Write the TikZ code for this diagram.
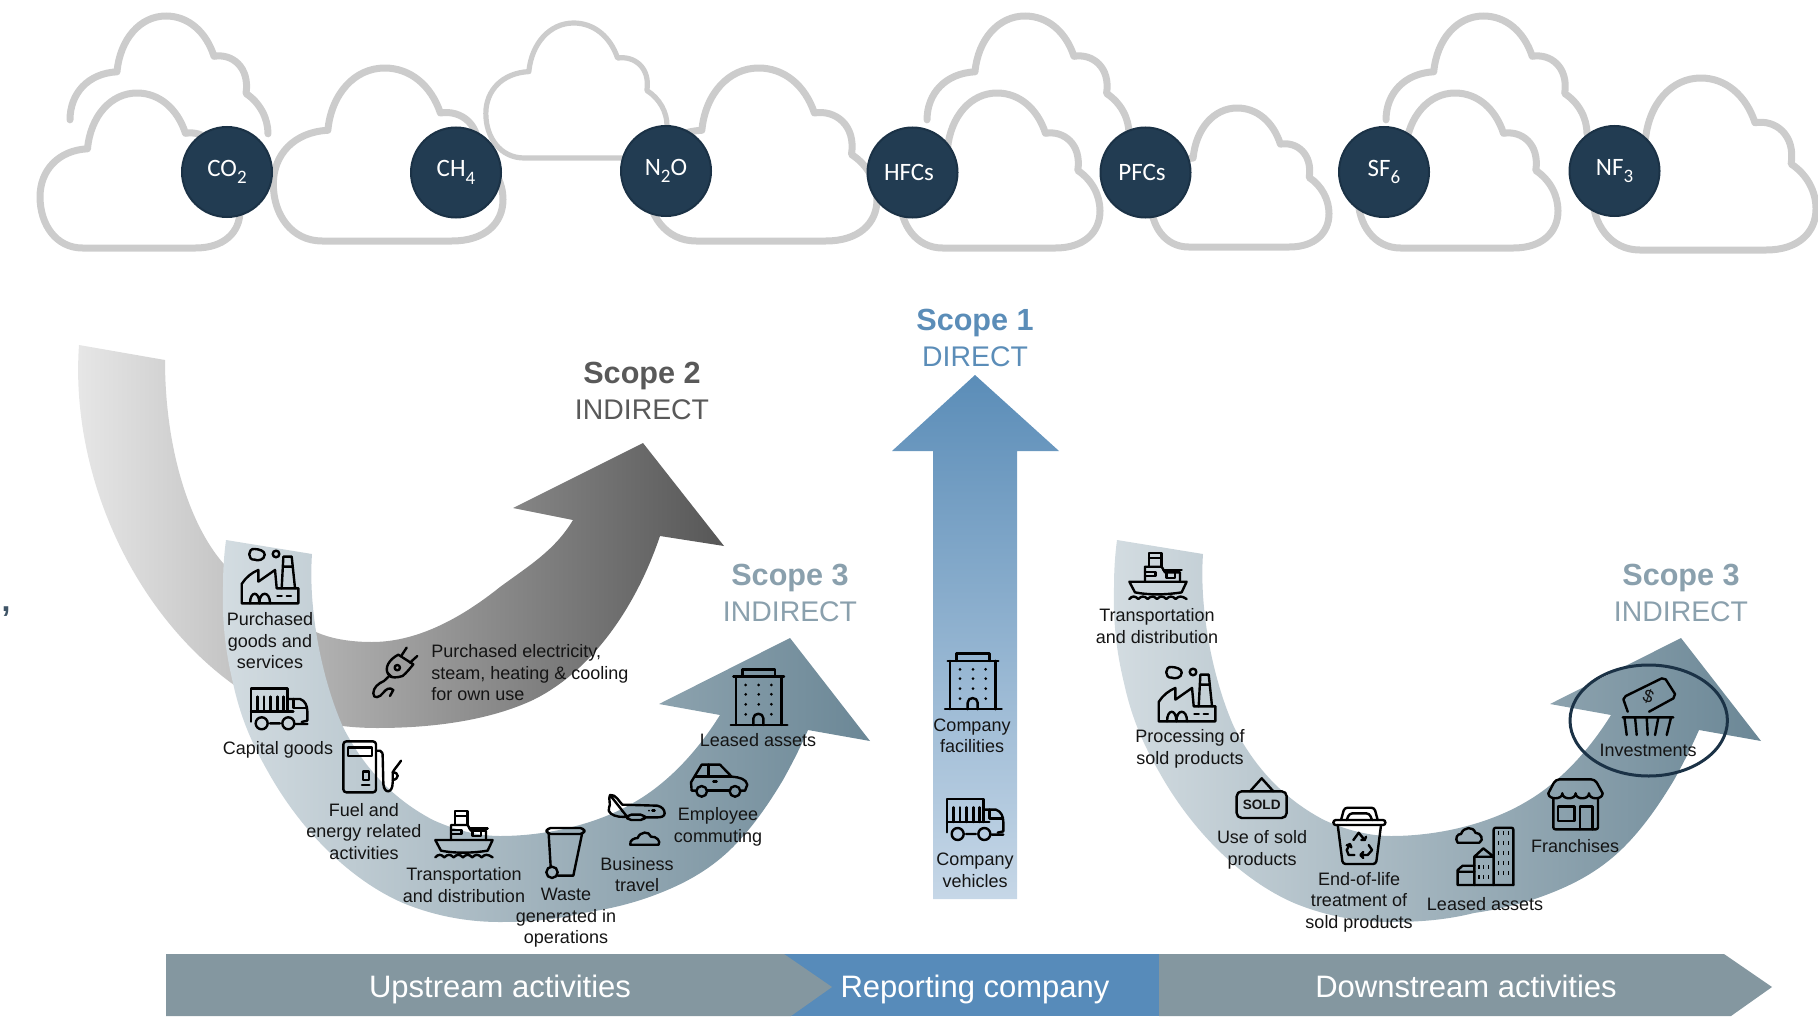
\documentclass[tikz,border=0pt]{standalone}
\usepackage{fontspec}
\setmainfont{Liberation Sans}
\newfontfamily\carlitofont{Carlito}
\definecolor{navy}{HTML}{223C52}
\definecolor{navyline}{HTML}{1B3246}
\definecolor{cloudgrey}{HTML}{CCCCCC}
\definecolor{barslate}{HTML}{8497A0}
\definecolor{barblue}{HTML}{578BBA}
\definecolor{headblue}{HTML}{5B8DB8}
\definecolor{headgrey}{HTML}{595959}
\definecolor{headslate}{HTML}{8AA0AD}
\definecolor{labelink}{HTML}{141414}
\definecolor{bandlight}{HTML}{D3DCE1}
\definecolor{bandmid}{HTML}{B4C2CB}
\definecolor{banddark}{HTML}{6B8796}
\definecolor{armlow}{HTML}{C6D7E7}
\definecolor{commaink}{HTML}{3F5567}
\newcommand\gsub[1]{\raisebox{-.3em}{\fontsize{9.5}{10}\selectfont #1}}
\tikzset{
  icon/.style={scale=0.3333,line width=1.2pt,line join=round,line cap=round},
  lab/.style={font=\fontsize{9}{10.75}\selectfont,align=center,inner sep=0pt,text=labelink},
  gas/.style={circle,minimum size=45pt,inner sep=0pt,fill=navy,draw=navyline,line width=1pt,text=white,font=\carlitofont\fontsize{12.5}{14}\selectfont},
  headb/.style={font=\fontsize{15.3}{17}\selectfont\bfseries,inner sep=0pt,text height=.72em,text depth=.2em},
  headn/.style={font=\fontsize{14.2}{16}\selectfont,inner sep=0pt,text height=.72em,text depth=.2em},
  barlab/.style={font=\fontsize{15.5}{17}\selectfont,text=white,inner sep=0pt,text height=.72em,text depth=.2em},
  cloudline/.style={draw=cloudgrey,line width=3.5pt,line cap=round,line join=round},
  bandfill/.style={left color=bandlight,middle color=bandmid,right color=banddark},
}
% clouds, in a unit box
\newcommand\cloudclosed[5][3.5pt]{\path[cloudline,line width=#1,fill=white,shift={(#2,#3)},xscale=#4,yscale=#5]
  (.22,1) .. controls (.09,1) and (.01,.85) .. (.01,.67) .. controls (.01,.5) and (.1,.37) .. (.245,.36)
  .. controls (.26,.15) and (.36,0) .. (.49,0) .. controls (.6,0) and (.69,.1) .. (.73,.26)
  .. controls (.82,.24) and (.91,.33) .. (.89,.5) .. controls (.96,.56) and (1,.66) .. (1,.76)
  .. controls (1,.9) and (.92,1) .. (.78,1) -- cycle;}
\newcommand\cloudopen[4]{\path[cloudline,shift={(#1,#2)},xscale=#3,yscale=#4]
  (.01,.67) .. controls (.01,.5) and (.1,.37) .. (.245,.36)
  .. controls (.26,.15) and (.36,0) .. (.49,0) .. controls (.6,0) and (.69,.1) .. (.73,.26)
  .. controls (.82,.24) and (.91,.33) .. (.89,.5) .. controls (.96,.56) and (1,.66) .. (1,.76);}
% the curved arrow shared by both Scope 3 bands
\newcommand\bandpath{(226,540) -- (312,554) .. controls (308,610) and (322,680) .. (343,727)
  .. controls (365,770) and (395,800) .. (433,820) .. controls (455,830) and (478,836) .. (500,836)
  .. controls (545,836) and (595,825) .. (633,803) .. controls (665,785) and (695,755) .. (720,715)
  -- (659,704) -- (790,638) -- (870,741) -- (808,730)
  .. controls (800,748) and (793,762) .. (783,780) .. controls (768,805) and (752,828) .. (733,847)
  .. controls (712,868) and (688,882) .. (660,893) .. controls (635,903) and (610,909) .. (583,913)
  .. controls (555,920) and (528,922) .. (500,922) .. controls (465,922) and (432,915) .. (403,903)
  .. controls (350,880) and (300,830) .. (267,770) .. controls (250,740) and (240,715) .. (233,683)
  .. controls (225,650) and (222,620) .. (223,587) .. controls (223,570) and (224,555) .. (226,540) -- cycle}
% icons
\newcommand\icFactory[2]{\begin{scope}[shift={(#1,#2)},icon]
  \draw (3,168) -- (3,110) .. controls (15,90) and (35,75) .. (53,68) -- (53,103) -- (103,68) -- (108,123) -- (173,123) -- (173,168) -- cycle;
  \draw (123,123) -- (128,28) -- (153,28) -- (163,123) (126,58) -- (156,58);
  \draw (28,168) .. controls (28,130) and (56,130) .. (56,168) .. controls (56,130) and (88,130) .. (88,168);
  \draw (110,146) -- (123,146) (138,146) -- (151,146);
  \draw (106,20) circle[radius=10];
  \draw (42,5) .. controls (20,2) and (20,40) .. (42,37) .. controls (50,42) and (72,38) .. (72,22) .. controls (72,10) and (55,6) .. (42,5) -- cycle;
\end{scope}}
\newcommand\icTruck[2]{\begin{scope}[shift={(#1,#2)},icon]
  \draw (3,103) -- (3,3) -- (112,3) -- (112,72) (3,72) -- (130,72);
  \foreach \sx in {22,42,62,82,100}{\draw (\sx,28) -- (\sx,72);}
  \draw (112,35) -- (150,35) .. controls (165,40) and (172,55) .. (172,72) -- (172,100) -- (155,104);
  \draw (130,35) -- (130,62) -- (170,62);
  \draw (35,108) circle[radius=18] (115,108) circle[radius=18] (60,108) -- (90,108) (138,110) -- (172,110);
\end{scope}}
\newcommand\icPump[2]{\begin{scope}[shift={(#1,#2)},icon]
  \draw[rounded corners=1.5pt] (2,2) rectangle (100,155);
  \draw (16,20) rectangle (88,45);
  \draw (60,92) rectangle (78,118) (58,132) -- (80,132);
  \draw (100,30) -- (112,30) .. controls (120,32) and (120,40) .. (120,50) -- (122,130) .. controls (124,160) and (150,160) .. (150,125) -- (150,95) .. controls (155,85) and (165,75) .. (175,60);
  \draw (150,95) .. controls (170,95) and (170,115) .. (150,118);
\end{scope}}
\newcommand\icShip[2]{\begin{scope}[shift={(#1,#2)},icon]
  \draw (3,90) -- (175,90) -- (160,122) .. controls (110,130) and (60,130) .. (20,122) -- cycle;
  \draw (3,142) .. controls (12,132) and (20,132) .. (30,142) .. controls (40,132) and (48,132) .. (58,142) .. controls (68,132) and (76,132) .. (86,142) .. controls (96,132) and (104,132) .. (114,142) .. controls (124,132) and (132,132) .. (142,142) .. controls (152,132) and (160,132) .. (175,142);
  \draw (50,90) -- (50,45) -- (100,45) -- (110,62) -- (155,62) -- (155,90);
  \draw (62,45) -- (62,3) -- (100,3) -- (100,45) (62,18) -- (100,18);
  \draw (50,60) -- (82,60) -- (82,72) -- (50,72) (115,62) -- (115,78) -- (140,78) -- (140,62) (105,55) -- (160,55);
\end{scope}}
\newcommand\icBin[2]{\begin{scope}[shift={(#1,#2)},icon]
  \draw[rounded corners=2pt] (2,2) rectangle (115,20);
  \draw (8,20) -- (14,118) (35,145) -- (82,145) -- (108,20);
  \draw (18,135) circle[radius=17];
\end{scope}}
\newcommand\icPlane[2]{\begin{scope}[shift={(#1,#2)},icon]
  \draw (8,3) .. controls (25,0) and (35,22) .. (45,32) -- (150,35) .. controls (165,38) and (172,48) .. (172,58) .. controls (172,68) and (160,70) .. (150,70) -- (112,70) (60,69) -- (35,68) .. controls (15,65) and (0,55) .. (5,42) .. controls (12,30) and (2,15) .. (8,3) -- cycle;
  \draw[rounded corners=2pt] (60,62) rectangle (112,78);
  \fill (45,52) circle[radius=3] (125,50) circle[radius=3];
  \draw (135,50) -- (142,50);
\end{scope}}
\newcommand\icCloudlet[2]{\begin{scope}[shift={(#1,#2)},icon]
  \draw (3,42) .. controls (0,28) and (15,22) .. (25,22) .. controls (32,2) and (60,0) .. (65,18) .. controls (82,16) and (95,32) .. (88,42) -- cycle;
\end{scope}}
\newcommand\icCar[2]{\begin{scope}[shift={(#1,#2)},icon]
  \draw (18,80) -- (5,80) -- (3,55) -- (15,35) -- (35,2) -- (90,2) -- (125,38) .. controls (150,40) and (168,45) .. (172,62) -- (165,80) -- (152,80);
  \draw (55,2) -- (55,38) (15,38) -- (125,38) (70,53) -- (80,53) (52,80) -- (118,80);
  \draw (35,82) circle[radius=16] (135,82) circle[radius=16];
\end{scope}}
\newcommand\icBuilding[2]{\begin{scope}[shift={(#1,#2)},icon]
  \draw (35,25) -- (35,3) -- (133,3) -- (133,25) (8,25) -- (160,25);
  \draw (15,25) -- (15,170) (152,25) -- (152,170) (0,170) -- (170,170);
  \draw (68,170) -- (68,150) .. controls (68,132) and (98,132) .. (98,150) -- (98,170);
  \foreach \dx/\dy in {45/50,84/50,122/50,45/78,84/78,122/78,45/108,84/108,122/108,45/138,122/138}{\fill (\dx,\dy) circle[radius=4.5];}
\end{scope}}
\newcommand\icPlug[2]{\begin{scope}[shift={(#1,#2)},icon]
  \draw (100,5) -- (85,28) (132,30) -- (110,50);
  \draw (75,26) .. controls (48,40) and (32,65) .. (45,85) .. controls (52,98) and (72,95) .. (88,90) .. controls (100,80) and (112,65) .. (120,55) -- cycle;
  \draw (72,65) circle[radius=8];
  \draw (50,88) -- (32,105) (44,82) -- (56,94);
  \draw (32,105) .. controls (15,112) and (0,125) .. (0,142) .. controls (0,160) and (20,155) .. (30,140) .. controls (38,130) and (48,122) .. (60,132) -- (50,150);
\end{scope}}
\newcommand\icSold[3]{\begin{scope}[shift={(#2,#3)},icon]
  \draw[rounded corners=2.5pt] (2,42) rectangle (152,122);
  \draw (42,42) -- (77,3) -- (112,42);
  \node[font=\fontsize{6.8}{8}\selectfont\bfseries,text=labelink,inner sep=0pt] (#1) at (77,82) {SOLD};
\end{scope}}
\newcommand\icRecycle[2]{\begin{scope}[shift={(#1,#2)},icon]
  \draw[rounded corners=1.2pt] (2,40) rectangle (158,55);
  \draw[rounded corners=1.5pt] (25,40) -- (35,3) -- (125,3) -- (135,40) (42,40) -- (50,20) -- (110,20) -- (118,40);
  \draw[rounded corners=1.5pt] (15,55) -- (30,172) -- (130,172) -- (145,55);
  \draw (62,100) -- (78,78) -- (96,100) (86,100) -- (96,100) -- (100,90);
  \draw (108,115) -- (118,130) -- (105,145) -- (85,145) (92,136) -- (83,145) -- (92,154);
  \draw (65,145) -- (48,145) -- (42,130) -- (52,112) (42,116) -- (52,112) -- (56,122);
\end{scope}}
\newcommand\icCity[2]{\begin{scope}[shift={(#1,#2)},icon]
  \draw (5,48) .. controls (-5,35) and (5,20) .. (15,22) .. controls (22,0) and (52,-2) .. (58,18) .. controls (75,18) and (85,40) .. (70,48) -- cycle;
  \draw[rounded corners=1pt] (113,175) -- (113,3) -- (172,3) -- (172,175);
  \foreach \wx in {127,142,157}{\foreach \wy in {20,50,80,110,140}{\fill (\wx-2.5,\wy-6) rectangle (\wx+2.5,\wy+6);}}
  \draw (55,175) -- (55,90) -- (82,65) -- (113,90) (55,90) -- (113,90);
  \foreach \wx in {68,82,97}{\foreach \wy in {122,152}{\fill (\wx-2.5,\wy-6) rectangle (\wx+2.5,\wy+6);}}
  \draw (5,175) -- (5,130) -- (20,117) -- (55,117) (5,135) -- (55,135) (5,175) -- (172,175);
\end{scope}}
\newcommand\icStore[2]{\begin{scope}[shift={(#1,#2)},icon]
  \draw[rounded corners=2pt] (3,45) -- (25,3) -- (143,3) -- (166,45);
  \draw (3,45) .. controls (3,65) and (45,65) .. (45,45) .. controls (45,65) and (85,65) .. (85,45) .. controls (85,65) and (125,65) .. (125,45) .. controls (125,65) and (166,65) .. (166,45);
  \draw[rounded corners=1pt] (18,62) -- (18,153) -- (152,153) -- (152,62);
  \draw (32,85) rectangle (82,128) (98,153) -- (98,85) -- (135,85) -- (135,153);
\end{scope}}
\newcommand\icMoney[3]{\begin{scope}[shift={(#2,#3)},icon]
  \draw (18,105) -- (5,68) -- (12,58) -- (120,5) -- (132,8) -- (160,52) -- (155,65) -- (82,105);
  \node[font=\fontsize{9}{10}\selectfont,rotate=-20,text=labelink,inner sep=0pt] (#1) at (80,58) {\$};
  \draw (3,122) -- (155,122) (8,122) -- (15,175) (40,122) -- (45,175) (75,122) -- (78,175) (110,122) -- (100,175) (148,122) -- (135,175);
\end{scope}}
\begin{document}
\begin{tikzpicture}[x=0.5pt,y=-0.5pt]
\useasboundingbox (0,0) rectangle (1818,1016);
% clouds behind
\cloudopen{68}{16}{200}{155}
\cloudopen{925}{16}{204}{155}
\cloudopen{1384}{16}{203}{155}
\cloudclosed[2.6pt]{484}{23}{183}{135}
\cloudclosed{38}{93}{202}{155}
\cloudclosed{271}{68}{232}{173}
\cloudclosed{645}{68}{232}{173}
\cloudclosed{898}{93}{202}{155}
\cloudclosed{1149}{108}{180}{139}
\cloudclosed{1356}{93}{202}{155}
\cloudclosed{1590}{78}{226}{172}
% gas discs
\node[gas] (co2) at (227,172) {CO\gsub{2}};
\node[gas] (ch4) at (456,172.5) {CH\gsub{4}};
\node[gas] (n2o) at (666,171) {N\gsub{2}O};
\node[gas] (hfc) at (912.5,172.5) {HFCs\kern3.5pt};
\node[gas] (pfc) at (1145.5,172.5) {PFCs\kern3.5pt};
\node[gas] (sf6) at (1384,172) {SF\gsub{6}};
\node[gas] (nf3) at (1614.5,171) {NF\gsub{3}};
% stray comma
\node[font=\fontsize{16}{18}\selectfont\bfseries,text=commaink,inner sep=0pt] (comma) at (6,612) {,};
% Scope 2 arrow
\shade[left color=black!9,right color=black!66]
  (79,345) .. controls (70,470) and (130,610) .. (234,685) .. controls (275,715) and (325,728) .. (377,728)
  .. controls (435,728) and (490,720) .. (533,700) .. controls (590,672) and (635,610) .. (660,536)
  -- (724,546) -- (643,443) -- (513,508) -- (573,520)
  .. controls (555,550) and (530,565) .. (500,587) .. controls (465,615) and (420,642) .. (372,642)
  .. controls (345,642) and (325,637) .. (312,630) .. controls (280,615) and (250,590) .. (223,563)
  .. controls (190,525) and (165,450) .. (165,360) -- cycle;
% Scope 3 arrows
\shade[bandfill] \bandpath;
\shade[shift={(891,0)},bandfill] \bandpath;
% Scope 1 arrow
\shade[top color=headblue,bottom color=armlow]
  (933,899) -- (933,451) -- (892,451) -- (975,375) -- (1059,451) -- (1017,451) -- (1017,899) -- cycle;
% bottom bar
\fill[barblue] (784,954) rectangle (1159,1016);
\fill[barslate] (166,954) -- (784,954) -- (832,987) -- (791,1016) -- (166,1016) -- cycle;
\fill[barslate] (1159,954) -- (1724,954) -- (1772,987) -- (1731,1016) -- (1159,1016) -- cycle;
\node[barlab] (barup) at (500,992.5) {Upstream activities};
\node[barlab] (barrep) at (975,992.5) {Reporting company};
\node[barlab] (bardown) at (1466,992.5) {Downstream activities};
% headings
\node[headb,text=headblue] (s1) at (975,325) {Scope 1};
\node[headn,text=headblue] (s1b) at (975,361) {DIRECT};
\node[headb,text=headgrey] (s2) at (642,378.5) {Scope 2};
\node[headn,text=headgrey] (s2b) at (642,414) {INDIRECT};
\node[headb,text=headslate] (s3l) at (790,580) {Scope 3};
\node[headn,text=headslate] (s3lb) at (790,616) {INDIRECT};
\node[headb,text=headslate] (s3r) at (1681,580) {Scope 3};
\node[headn,text=headslate] (s3rb) at (1681,616) {INDIRECT};
% icons, left band
\icFactory{240.7}{547.3}
\icTruck{250}{687.3}
\icPump{342.7}{740.7}
\icShip{434.3}{810}
\icBin{546}{827.3}
\icPlane{607.3}{794}
\icCloudlet{629.3}{830.7}
\icCar{690}{764}
\icBuilding{730.7}{668.3}
\icPlug{373.3}{646}
% icons, scope 1
\icBuilding{945}{652.6}
\icTruck{946}{798}
% icons, right band
\icShip{1128.3}{551.7}
\icFactory{1157.7}{665.3}
\icSold{soldtag}{1236}{777.3}
\icRecycle{1332.7}{806.7}
\icCity{1456}{826.7}
\icStore{1547.3}{778.3}
\icMoney{moneytag}{1621.7}{676.7}
% labels
\node[lab] (l1) at (270,641) {Purchased\\goods and\\services};
\node[lab] (l2) at (278,750) {Capital goods};
\node[lab] (l3) at (364,831.5) {Fuel and\\energy related\\activities};
\node[lab] (l4) at (464,885) {Transportation\\and distribution};
\node[lab] (l5) at (566,918) {Waste\\generated in\\operations};
\node[lab] (l6) at (637,874.5) {Business\\travel};
\node[lab] (l7) at (718,827) {Employee\\commuting};
\node[lab] (l8) at (758,740) {Leased assets};
\node[lab,align=left,anchor=west] (l9) at (431,673) {Purchased electricity,\\steam, heating \& cooling\\for own use};
\node[lab] (c1) at (972,736) {Company\\facilities};
\node[lab] (c2) at (975,870.5) {Company\\vehicles};
\node[lab] (r1) at (1157,626) {Transportation\\and distribution};
\node[lab] (r2) at (1190,749) {Processing of\\sold products};
\node[lab] (r3) at (1262,850) {Use of sold\\products};
\node[lab] (r4) at (1359,902) {End-of-life\\treatment of\\sold products};
\node[lab] (r5) at (1485,904.5) {Leased assets};
\node[lab] (r6) at (1575,846) {Franchises};
\node[lab] (r7) at (1648,750) {Investments};
% investments ring
\draw[navyline,line width=1.5pt] (1648.7,720.5) ellipse (78.7 and 55.5);
\end{tikzpicture}
\end{document}
